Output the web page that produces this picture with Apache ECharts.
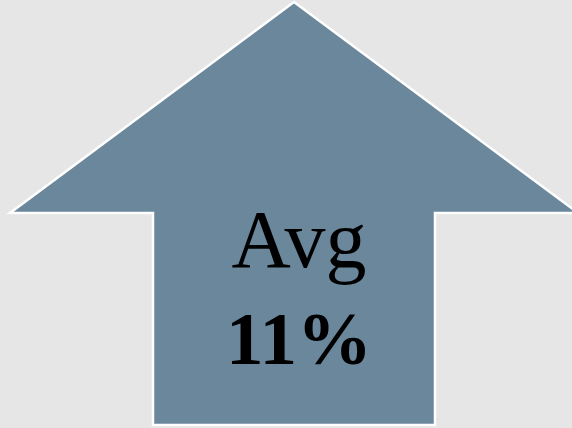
<!DOCTYPE html>
<html><head><meta charset="utf-8">
<script src="https://cdn.jsdelivr.net/npm/echarts@6/dist/echarts.min.js"></script>
<style>html,body{margin:0;padding:0;background:#e6e6e6;}#c{width:572px;height:428px;}</style>
</head><body><div id="c"></div>
<script>
const categories = ['Avg'];
const values = [11];
const valueSuffix = '%';

const chart = echarts.init(document.getElementById('c'), null, {renderer: 'canvas'});
chart.setOption({
  backgroundColor: '#e6e6e6',
  animation: false,
  grid: {left: 0, right: 0, top: 0, bottom: 0},
  xAxis: {type: 'category', data: categories, show: false},
  yAxis: {type: 'value', min: 0, max: 20, show: false},
  series: [{
    type: 'custom',
    data: values,
    renderItem: function (params, api) {
      const cs = params.coordSys;
      const cx = api.coord([api.value(0), 0])[0];
      const y0 = cs.y;
      const shaftHalf = 141, wingHalf = 284;
      const tipY = y0 + 2, wingY = y0 + 213, botY = y0 + 425;
      const ax = cx + 8;
      const pts = [
        [ax, tipY], [ax + wingHalf, wingY], [ax + shaftHalf, wingY], [ax + shaftHalf, botY],
        [ax - shaftHalf, botY], [ax - shaftHalf, wingY], [ax - wingHalf, wingY]
      ];
      const tx = ax + 5;
      return {
        type: 'group',
        children: [
          {type: 'polygon', shape: {points: pts}, style: {fill: '#6b879c', stroke: '#ffffff', lineWidth: 2.5}},
          {type: 'text', style: {text: categories[params.dataIndex], x: tx, y: 245, align: 'center', verticalAlign: 'middle',
            font: '82px "Liberation Serif", serif', fill: '#000'}},
          {type: 'text', style: {text: api.value(1) + valueSuffix, x: tx, y: 345, align: 'center', verticalAlign: 'middle',
            font: 'bold 75px "Liberation Serif", serif', fill: '#000'}}
        ]
      };
    },
    encode: {x: 0, y: 1}
  }]
});
</script></body></html>
